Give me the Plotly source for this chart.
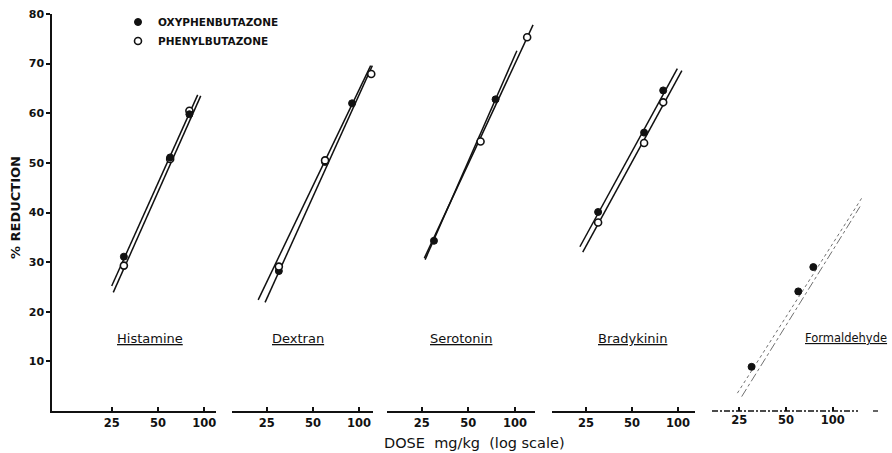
import plotly.graph_objects as go

W, H = 892, 453

# ---------------- data ----------------
PANELS = ["Histamine", "Dextran", "Serotonin", "Bradykinin", "Formaldehyde"]

OXY_DOSE = [[30, 60, 80], [30, 60, 90], [30, 75], [30, 60, 80], [30, 60, 75]]
OXY_PCT = [[31.1, 51.1, 59.8], [28.2, 50.2, 62.0], [34.3, 62.8], [40.1, 56.1, 64.6], [8.9, 24.1, 29.0]]

PHE_DOSE = [[30, 60, 80], [30, 60, 120], [60, 120], [30, 60, 80], []]
PHE_PCT = [[29.3, 50.8, 60.5], [29.1, 50.5, 67.9], [54.3, 75.3], [38.0, 54.0, 62.2], []]

OXY_LINE_DOSE = [[25, 90.6], [24.4, 122], [26.3, 103], [22.8, 99], [25.9, 150]]
OXY_LINE_PCT = [[25.2, 63.7], [21.9, 69.6], [30.5, 72.6], [33.1, 69.0], [2.9, 41.2]]
PHE_LINE_DOSE = [[25.6, 94.8], [22.0, 119], [26.0, 131], [23.8, 106], [24.3, 156]]
PHE_LINE_PCT = [[23.9, 63.5], [22.4, 69.6], [30.8, 77.8], [32.0, 68.6], [3.6, 43.2]]

X_TICKS = [25, 50, 100]
X_TICK_TEXT = ["25", "50", "100"]
Y_TICKS = [10, 20, 30, 40, 50, 60, 70, 80]
Y_TICK_TEXT = ["10", "20", "30", "40", "50", "60", "70", "80"]

# ---------------- layout geometry / style ----------------
DOM_PX = [(52, 216), (232, 373), (387, 535), (552, 695), (712, 870)]
X_RANGES = [(1.0098, 2.0761), (1.1718, 2.0906), (1.1738, 2.1298), (1.1754, 2.1113), (1.2220, 2.2404)]
LABEL_X_PX = [150, 298, 461, 632.5, 846]
LABEL_SIZE = [13, 13, 13, 13, 11.5]
PHE_ON_TOP = [False, True, True, True, True]
TOP, BOTTOM = 14, 42
PLOT_H = H - TOP - BOTTOM

FONT = "DejaVu Sans"
BLACK = "#111111"

fig = go.Figure()

for i in range(5):
    xa = "x" if i == 0 else f"x{i+1}"
    last = (i == 4)
    lcol = "#707070" if last else BLACK
    lw = 1.0 if last else 1.5
    fig.add_trace(go.Scatter(
        x=OXY_LINE_DOSE[i], y=OXY_LINE_PCT[i], mode="lines", xaxis=xa, yaxis="y",
        line=dict(color=lcol, width=lw, dash="dashdot" if last else "solid"),
        showlegend=False, hoverinfo="skip"))
    fig.add_trace(go.Scatter(
        x=PHE_LINE_DOSE[i], y=PHE_LINE_PCT[i], mode="lines", xaxis=xa, yaxis="y",
        line=dict(color=lcol, width=lw, dash="dot" if last else "solid"),
        showlegend=False, hoverinfo="skip"))

for i in range(5):
    xa = "x" if i == 0 else f"x{i+1}"
    oxy = go.Scatter(
        x=OXY_DOSE[i], y=OXY_PCT[i], mode="markers", xaxis=xa, yaxis="y",
        name="OXYPHENBUTAZONE", legendgroup="oxy", showlegend=(i == 0), legendrank=1,
        cliponaxis=False,
        marker=dict(symbol="circle", size=7, color=BLACK, line=dict(color=BLACK, width=1)))
    phe = go.Scatter(
        x=PHE_DOSE[i], y=PHE_PCT[i], mode="markers", xaxis=xa, yaxis="y",
        name="PHENYLBUTAZONE", legendgroup="phe", showlegend=(i == 0), legendrank=2,
        cliponaxis=False,
        marker=dict(symbol="circle", size=7, color="white", line=dict(color=BLACK, width=1.6)))
    if PHE_ON_TOP[i]:
        fig.add_trace(oxy)
        fig.add_trace(phe)
    else:
        fig.add_trace(phe)
        fig.add_trace(oxy)

layout = dict(
    width=W, height=H,
    margin=dict(l=0, r=0, t=TOP, b=BOTTOM, autoexpand=False),
    paper_bgcolor="white", plot_bgcolor="white",
    font=dict(family=FONT, color=BLACK),
    showlegend=True,
    legend=dict(x=118 / W, xanchor="left", y=1 + 6.5 / PLOT_H, yanchor="top",
                bgcolor="rgba(0,0,0,0)", borderwidth=0, tracegroupgap=2,
                traceorder="normal",
                font=dict(family=FONT, size=10.5, color=BLACK, weight="bold"),
                itemwidth=30),
    yaxis=dict(range=[0, 80], anchor="x", showgrid=False, zeroline=False,
               showline=True, linecolor=BLACK, linewidth=1.5,
               ticks="outside", ticklen=4, tickwidth=1.5, tickcolor=BLACK,
               tickvals=Y_TICKS, ticktext=Y_TICK_TEXT,
               tickfont=dict(family=FONT, size=11, color=BLACK, weight="bold"),
               automargin=False),
)

for i in range(5):
    key = "xaxis" if i == 0 else f"xaxis{i+1}"
    l, r = DOM_PX[i]
    layout[key] = dict(
        type="log", range=list(X_RANGES[i]), domain=[l / W, r / W], anchor="y",
        showgrid=False, zeroline=False,
        showline=(i != 4), linecolor=BLACK, linewidth=1.5,
        ticks="inside", ticklen=4, tickwidth=1.5, tickcolor=BLACK,
        tickvals=X_TICKS, ticktext=X_TICK_TEXT,
        tickfont=dict(family=FONT, size=11.5, color=BLACK, weight="bold"),
        automargin=False)

annotations = []
for i, name in enumerate(PANELS):
    annotations.append(dict(
        text=f"<u>{name}</u>", xref="paper", yref="paper",
        x=LABEL_X_PX[i] / W, y=(H - BOTTOM - 338) / PLOT_H,
        xanchor="center", yanchor="middle", showarrow=False,
        font=dict(family=FONT, size=LABEL_SIZE[i], color=BLACK)))

annotations.append(dict(
    text="% REDUCTION", xref="paper", yref="paper", x=15 / W,
    y=(H - BOTTOM - 208) / PLOT_H, textangle=-90, showarrow=False,
    xanchor="center", yanchor="middle",
    font=dict(family=FONT, size=13, color=BLACK, weight="bold")))

annotations.append(dict(
    text="DOSE  mg/kg  (log scale)", xref="paper", yref="paper", x=474 / W,
    y=(H - BOTTOM - 443) / PLOT_H, showarrow=False,
    xanchor="center", yanchor="middle",
    font=dict(family=FONT, size=14.5, color=BLACK)))

layout["annotations"] = annotations

# broken axis line under the Formaldehyde panel
layout["shapes"] = [
    dict(type="line", xref="paper", yref="paper", x0=712 / W, x1=858 / W, y0=0, y1=0,
         line=dict(color=BLACK, width=1.3, dash="6px,2px,2px,2px")),
    dict(type="line", xref="paper", yref="paper", x0=873 / W, x1=878 / W, y0=0, y1=0,
         line=dict(color=BLACK, width=1.3)),
]

fig.update_layout(**layout)
fig.write_html("out.html")
